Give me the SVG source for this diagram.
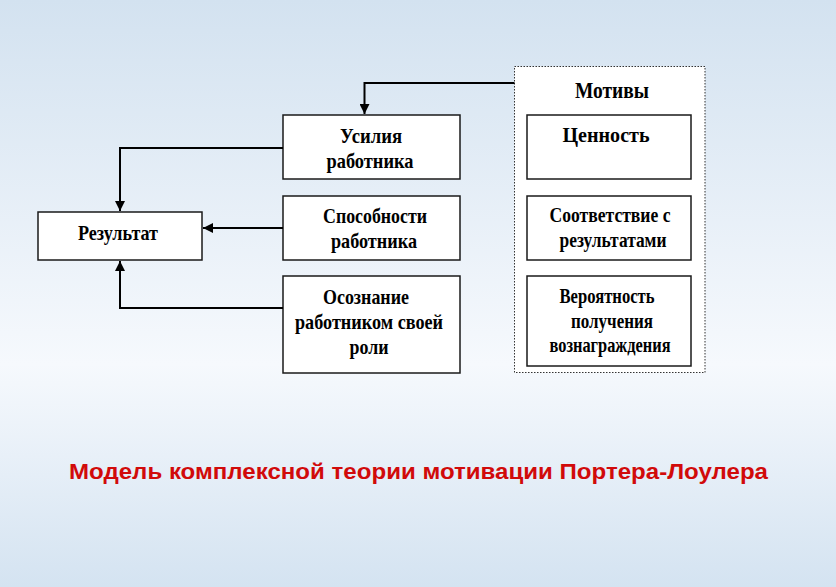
<svg xmlns="http://www.w3.org/2000/svg" width="836" height="587" viewBox="0 0 836 587">
<defs>
<linearGradient id="bg" x1="0" y1="0" x2="0" y2="1">
<stop offset="0" stop-color="#d3e2f0"/>
<stop offset="0.62" stop-color="#f6f9fd"/>
<stop offset="1" stop-color="#d4e3f1"/>
</linearGradient>
<marker id="arr" viewBox="0 0 10 10" refX="10" refY="5" markerWidth="5.5" markerHeight="5" orient="auto" markerUnits="strokeWidth">
<path d="M0,0 L10,5 L0,10 z" fill="#000"/>
</marker>
<style>
.box{fill:#fff;stroke:#1a1a1a;stroke-width:1.5}
.t{font-family:"Liberation Serif","Times New Roman",serif;font-weight:bold;font-size:21px;fill:#000;text-anchor:middle}
.c{fill:none;stroke:#000;stroke-width:2}
</style>
</defs>
<rect width="836" height="587" fill="url(#bg)"/>

<g id="motives">
<rect x="514.5" y="66.5" width="190.5" height="306" fill="#fff" stroke="#333" stroke-width="1" stroke-dasharray="1.5 1.5"/>
<text class="t" x="612" y="98" style="font-size:24px" textLength="74" lengthAdjust="spacingAndGlyphs">Мотивы</text>
</g>
<g id="value">
<rect class="box" x="527" y="115" width="164" height="64"/>
<text class="t" x="606" y="142" textLength="87" lengthAdjust="spacingAndGlyphs">Ценность</text>
</g>
<g id="match">
<rect class="box" x="527" y="196" width="164" height="64"/>
<text class="t" x="610" y="222" textLength="121" lengthAdjust="spacingAndGlyphs">Соответствие с</text>
<text class="t" x="613" y="247" textLength="107" lengthAdjust="spacingAndGlyphs">результатами</text>
</g>
<g id="prob">
<rect class="box" x="527" y="276" width="164" height="90"/>
<text class="t" x="607" y="303" textLength="95" lengthAdjust="spacingAndGlyphs">Вероятность</text>
<text class="t" x="612" y="328" textLength="82" lengthAdjust="spacingAndGlyphs">получения</text>
<text class="t" x="610" y="352" textLength="121" lengthAdjust="spacingAndGlyphs">вознаграждения</text>
</g>
<g id="effort">
<rect class="box" x="283" y="115" width="177" height="64"/>
<text class="t" x="371" y="143" textLength="62" lengthAdjust="spacingAndGlyphs">Усилия</text>
<text class="t" x="370" y="168" textLength="87" lengthAdjust="spacingAndGlyphs">работника</text>
</g>
<g id="ability">
<rect class="box" x="283" y="196" width="177" height="64"/>
<text class="t" x="375" y="223" textLength="104" lengthAdjust="spacingAndGlyphs">Способности</text>
<text class="t" x="374" y="248" textLength="86" lengthAdjust="spacingAndGlyphs">работника</text>
</g>
<g id="role">
<rect class="box" x="283" y="276" width="177" height="97"/>
<text class="t" x="366" y="304" textLength="86" lengthAdjust="spacingAndGlyphs">Осознание</text>
<text class="t" x="369" y="329" textLength="148" lengthAdjust="spacingAndGlyphs">работником своей</text>
<text class="t" x="369" y="354" textLength="39" lengthAdjust="spacingAndGlyphs">роли</text>
</g>
<g id="result">
<rect class="box" x="38" y="212" width="164" height="48"/>
<text class="t" x="118" y="240" textLength="80" lengthAdjust="spacingAndGlyphs">Результат</text>
</g>

<g id="connectors">
<path class="c" d="M514.5,83 H364.5 V114" marker-end="url(#arr)"/>
<path class="c" d="M283,148 H120 V211" marker-end="url(#arr)"/>
<path class="c" d="M283,228 H203" marker-end="url(#arr)"/>
<path class="c" d="M283,308 H120 V261" marker-end="url(#arr)"/>
</g>

<text x="418.5" y="479" font-family="'Liberation Sans',Arial,sans-serif" font-weight="bold" font-size="22.5" fill="#d10a0a" text-anchor="middle" textLength="699" lengthAdjust="spacingAndGlyphs">Модель комплексной теории мотивации Портера-Лоулера</text>
</svg>
